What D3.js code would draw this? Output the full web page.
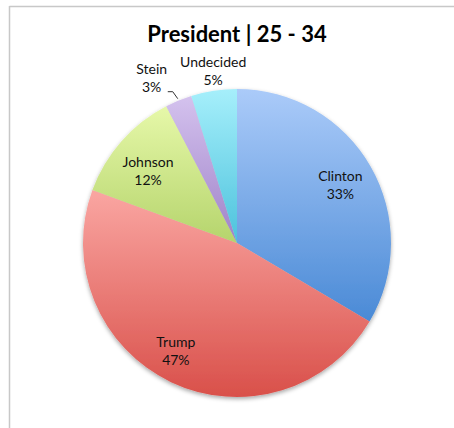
<!DOCTYPE html>
<html><head><meta charset="utf-8">
<script src="https://cdn.jsdelivr.net/npm/d3@7/dist/d3.min.js"></script>
<style>body{margin:0;background:#fff;} svg{display:block;}</style>
</head><body>
<svg id="c" width="454" height="428"></svg>
<script>
const categories = ["Clinton", "Trump", "Johnson", "Stein", "Undecided"];
const values = [33.5, 47.1, 11.8, 2.8, 4.8];
const labels = ["33%", "47%", "12%", "3%", "5%"];
const title = "President | 25 - 34";

const colorTop = ["#abcbf9", "#faa6a2", "#e6f8a9", "#d4c2ee", "#a6effb"];
const colorBot = ["#4a8ad6", "#d9504a", "#b5d46c", "#9f82c8", "#4cc2dc"];

const svg = d3.select("#c");
const W = 454, H = 428;
svg.append("line").attr("x1", 9.5).attr("x2", W).attr("y1", 6.5).attr("y2", 6.5).attr("stroke", "#c8c8c8").attr("stroke-width", 1.5);
svg.append("line").attr("x1", 9.5).attr("x2", 9.5).attr("y1", 6).attr("y2", H).attr("stroke", "#c8c8c8").attr("stroke-width", 1.5);

svg.append("text").attr("x", 237).attr("y", 42).attr("text-anchor", "middle")
  .attr("font-family", "Lato, 'Open Sans', sans-serif").attr("font-weight", "bold")
  .attr("font-size", 22).attr("fill", "#000").text(title);

const cx = 237, cy = 243, R = 154;
const defs = svg.append("defs");
const f = defs.append("filter").attr("id", "sh").attr("x", "-20%").attr("y", "-20%").attr("width", "140%").attr("height", "140%");
f.append("feDropShadow").attr("dx", 0).attr("dy", 2).attr("stdDeviation", 2).attr("flood-color", "#000").attr("flood-opacity", 0.35);

categories.forEach((c, i) => {
  const g = defs.append("linearGradient").attr("id", "g" + i).attr("x1", 0).attr("y1", 0).attr("x2", 0).attr("y2", 1);
  g.append("stop").attr("offset", "0%").attr("stop-color", colorTop[i]);
  g.append("stop").attr("offset", "100%").attr("stop-color", colorBot[i]);
});

const pie = d3.pie().sort(null).value(d => d)(values);
const arc = d3.arc().innerRadius(0).outerRadius(R);
const gp = svg.append("g").attr("transform", `translate(${cx},${cy})`);
gp.append("g").attr("filter", "url(#sh)").selectAll("path").data(pie).join("path")
  .attr("d", arc).attr("fill", (d, i) => `url(#g${i})`);

const labelR = [119, 124, 116, 180, 172];
const labelDx = [0, -8, -2, -17, 2];
const labelDy = [0, -5, 4, 0, -3];
const fontF = "Lato, 'Open Sans', sans-serif";
pie.forEach((d, i) => {
  const la = d3.arc().innerRadius(labelR[i]).outerRadius(labelR[i]);
  const [x, y] = la.centroid(d);
  const t = gp.append("text").attr("text-anchor", "middle").attr("font-family", fontF)
    .attr("font-size", 14).attr("fill", "#111");
  t.append("tspan").attr("x", x + labelDx[i]).attr("y", y + labelDy[i] - 3).text(categories[i]);
  t.append("tspan").attr("x", x + labelDx[i]).attr("y", y + labelDy[i] + 15).text(labels[i]);
});

const s = pie[3];
const mid = (s.startAngle + s.endAngle) / 2;
const px = Math.sin(mid) * (R + 2), py = -Math.cos(mid) * (R + 2);
gp.append("path").attr("d", `M${px},${py} L${px - 5},${py - 7} L${px - 10},${py - 7}`)
  .attr("fill", "none").attr("stroke", "#333").attr("stroke-width", 1);
</script>
</body></html>
